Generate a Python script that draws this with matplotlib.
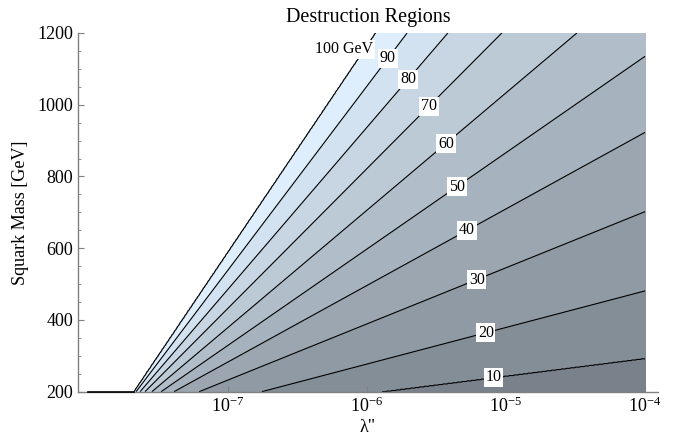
import numpy as np
import matplotlib
matplotlib.use("Agg")
import matplotlib.pyplot as plt
from matplotlib.colors import LinearSegmentedColormap

plt.rcParams['font.family'] = ['Liberation Serif', 'DejaVu Serif']
plt.rcParams['mathtext.fontset'] = 'custom'
plt.rcParams['mathtext.rm'] = 'Liberation Serif'
plt.rcParams['mathtext.it'] = 'Liberation Serif:italic'

# contour levels (GeV) and the straight lines they follow (log lambda vs mass)
levels = np.array([10, 20, 30, 40, 50, 60, 70, 80, 90, 100])
start_lam = np.array([1.285e-6, 1.766e-7, 6.24e-8, 4.12e-8, 3.33e-8,
                      2.86e-8, 2.55e-8, 2.35e-8, 2.20e-8, 2.11e-8])  # where mass = 200
end_lam = np.array([1e-4, 1e-4, 1e-4, 1e-4, 1e-4,
                    3.24e-5, 9.35e-6, 3.83e-6, 1.95e-6, 1.15e-6])
end_mass = np.array([293, 481, 702, 923, 1135, 1200, 1200, 1200, 1200, 1200])
label_lam = np.array([8.20e-6, 7.18e-6, 6.19e-6, 5.25e-6, 4.45e-6,
                      3.71e-6, 2.80e-6, 1.98e-6, 1.42e-6, 0.96e-6])
label_txt = ['10', '20', '30', '40', '50', '60', '70', '80', '90', '100 GeV']

# build the field from the lines
Ls = np.log10(start_lam)
Le = np.log10(end_lam)
slope = (end_mass - 200) / (Le - Ls)

L = np.linspace(-8, -4, 801)
M = np.linspace(200, 1200, 601)
Z = np.zeros((len(M), len(L)))
for j, l in enumerate(L):
    xp = 200 + (l - Ls) * slope
    order = np.argsort(xp)
    xp_ext = np.concatenate([[-1e4], xp[order], [1e4]])
    fp_ext = np.concatenate([[0], levels[order], [200]])
    Z[:, j] = np.interp(M, xp_ext, fp_ext)

LAM, MM = np.meshgrid(10.0 ** L, M)
LL = np.log10(LAM)
# everything left of / above the 100 GeV line stays empty
Z[MM > 200 + (LL - Ls[-1]) * slope[-1]] = 150

cmap = LinearSegmentedColormap.from_list('band', ['#79828B', '#DEEEFC'])
band_colors = [cmap(i / 9) for i in range(10)]

fig = plt.figure(figsize=(6.78, 4.41), dpi=100)
ax = fig.add_axes([0.115, 0.1118, 0.8555, 0.8134])
ax.set_xscale('log')

ax.contourf(LAM, MM, Z, levels=np.concatenate([[0], levels]), colors=band_colors)
ax.contour(LAM, MM, Z, levels=levels, colors='k', linewidths=0.8)
ax.plot([1e-8, start_lam[-1]], [200, 200], color='k', lw=1.2, zorder=5, clip_on=False)

# labels on the contour lines
for lam, lev, txt in zip(label_lam, range(10), label_txt):
    m = 200 + (np.log10(lam) - Ls[lev]) * slope[lev]
    off = (-20, 0) if lev == 9 else (0, 0)
    ax.annotate(txt, (lam, m), xytext=off, textcoords='offset pixels',
                ha='center', va='center', fontsize=11.5, zorder=6,
                bbox=dict(facecolor='white', edgecolor='none', pad=1.2))

ax.set_xlim(10 ** -8.075, 10 ** -3.907)
ax.set_ylim(200, 1200)
ax.set_xticks([1e-7, 1e-6, 1e-5, 1e-4])
ax.xaxis.set_minor_locator(matplotlib.ticker.NullLocator())
ax.set_yticks([200, 400, 600, 800, 1000, 1200])
ax.set_yticks(np.arange(250, 1200, 50), minor=True)

for s in ['top', 'right']:
    ax.spines[s].set_visible(False)
for s in ['left', 'bottom']:
    ax.spines[s].set_color('#808080')
    ax.spines[s].set_linewidth(1.0)
ax.tick_params(which='both', direction='in', color='#808080', labelsize=13)
ax.tick_params(which='major', length=4)
ax.tick_params(which='minor', length=2)

ax.set_title('Destruction Regions', fontsize=14.5, pad=8)
ax.set_xlabel('λ"', fontsize=13, labelpad=2)
ax.set_ylabel('Squark Mass [GeV]', fontsize=13, labelpad=6)

fig.savefig('out.png', dpi=100)
